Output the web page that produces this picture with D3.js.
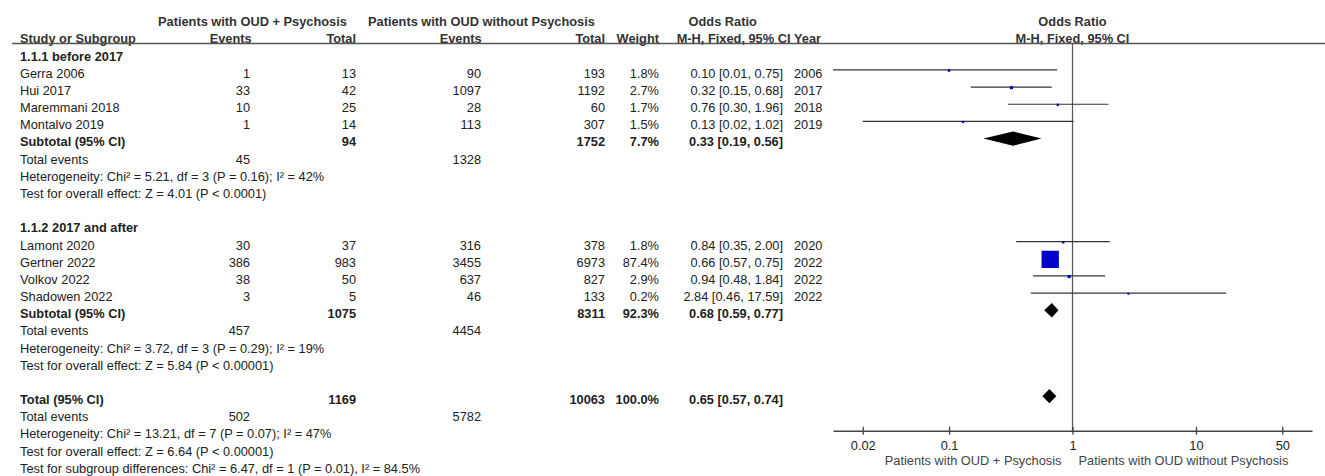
<!DOCTYPE html>
<html>
<head>
<meta charset="utf-8">
<script src="https://cdn.jsdelivr.net/npm/d3@7"></script>
<style>
  html, body { margin: 0; padding: 0; background: #fff; }
  svg { display: block; font-family: "Liberation Sans", Arial, sans-serif; }
</style>
</head>
<body>
<svg id="chart" width="1325" height="476"></svg>
<script>
// ---- Study-level data ----
const studies   = ["Gerra 2006", "Hui 2017", "Maremmani 2018", "Montalvo 2019",
                   "Lamont 2020", "Gertner 2022", "Volkov 2022", "Shadowen 2022"];
const groups    = [0, 0, 0, 0, 1, 1, 1, 1];
const events1   = [1, 33, 10, 1, 30, 386, 38, 3];
const totals1   = [13, 42, 25, 14, 37, 983, 50, 5];
const events2   = [90, 1097, 28, 113, 316, 3455, 637, 46];
const totals2   = [193, 1192, 60, 307, 378, 6973, 827, 133];
const weights   = [1.8, 2.7, 1.7, 1.5, 1.8, 87.4, 2.9, 0.2];
const oddsRatio = [0.10, 0.32, 0.76, 0.13, 0.84, 0.66, 0.94, 2.84];
const ciLow     = [0.01, 0.15, 0.30, 0.02, 0.35, 0.57, 0.48, 0.46];
const ciHigh    = [0.75, 0.68, 1.96, 1.02, 2.00, 0.75, 1.84, 17.59];
const years     = [2006, 2017, 2018, 2019, 2020, 2022, 2022, 2022];

// ---- Subgroup and overall pooled results ----
const groupTitles   = ["1.1.1 before 2017", "1.1.2 2017 and after"];
const groupTotal1   = [94, 1075];
const groupTotal2   = [1752, 8311];
const groupWeight   = [7.7, 92.3];
const groupOR       = [0.33, 0.68];
const groupLow      = [0.19, 0.59];
const groupHigh     = [0.56, 0.77];
const groupEvents1  = [45, 457];
const groupEvents2  = [1328, 4454];
const groupHetero   = ["Heterogeneity: Chi² = 5.21, df = 3 (P = 0.16); I² = 42%",
                       "Heterogeneity: Chi² = 3.72, df = 3 (P = 0.29); I² = 19%"];
const groupEffect   = ["Test for overall effect: Z = 4.01 (P < 0.0001)",
                       "Test for overall effect: Z = 5.84 (P < 0.00001)"];

const overallTotal1  = 1169;
const overallTotal2  = 10063;
const overallWeight  = 100.0;
const overallOR      = 0.65;
const overallLow     = 0.57;
const overallHigh    = 0.74;
const overallEvents1 = 502;
const overallEvents2 = 5782;
const overallNotes   = ["Heterogeneity: Chi² = 13.21, df = 7 (P = 0.07); I² = 47%",
                        "Test for overall effect: Z = 6.64 (P < 0.00001)",
                        "Test for subgroup differences: Chi² = 6.47, df = 1 (P = 0.01), I² = 84.5%"];

// ---- Axis ----
const tickValues = [0.02, 0.1, 1, 10, 50];
const favourLeft  = "Patients with OUD + Psychosis";
const favourRight = "Patients with OUD without Psychosis";

// ---- Layout ----
const svg = d3.select("#chart");
const FS = 12.8;
const rowH = 17.17;
const base = r => 26.3 + r * rowH;     // text baseline of row r
const markY = r => base(r) - 7.9;      // vertical centre of a plot mark in row r

const col = {
  study: 20, ev1: 250, tot1: 356, ev2: 481, tot2: 605,
  weight: 659, ci: 783, year: 794
};

const x = d3.scaleLog()
  .domain([Math.pow(10, -1.94), Math.pow(10, 1.94)])
  .range([833, 1312]);
const [dMin, dMax] = x.domain();
const axisY = 430.7;

const TXT = "#222";
const HDR = "#333";

function text(xp, r, str, opts = {}) {
  svg.append("text")
    .attr("x", xp)
    .attr("y", opts.y != null ? opts.y : base(r))
    .attr("font-size", FS)
    .attr("font-weight", opts.bold ? "bold" : "normal")
    .attr("text-anchor", opts.anchor || "start")
    .attr("fill", opts.fill || TXT)
    .text(str);
}

const fmt2 = d3.format(".2f");
const fmtCI = (o, l, h) => `${fmt2(o)} [${fmt2(l)}, ${fmt2(h)}]`;
const fmtW = w => d3.format(".1f")(w) + "%";

// ---- Column headers ----
text(158, 0, "Patients with OUD + Psychosis", { bold: true, fill: HDR });
text(368, 0, "Patients with OUD without Psychosis", { bold: true, fill: HDR });
text(722.7, 0, "Odds Ratio", { bold: true, fill: HDR, anchor: "middle" });
text(x(1), 0, "Odds Ratio", { bold: true, fill: HDR, anchor: "middle" });

text(col.study, 1, "Study or Subgroup", { bold: true, fill: HDR });
text(251.7, 1, "Events", { bold: true, fill: HDR, anchor: "end" });
text(col.tot1, 1, "Total", { bold: true, fill: HDR, anchor: "end" });
text(481.7, 1, "Events", { bold: true, fill: HDR, anchor: "end" });
text(col.tot2, 1, "Total", { bold: true, fill: HDR, anchor: "end" });
text(col.weight, 1, "Weight", { bold: true, fill: HDR, anchor: "end" });
text(676.7, 1, "M-H, Fixed, 95% CI", { bold: true, fill: HDR });
text(col.year, 1, "Year", { bold: true, fill: HDR });
text(x(1), 1, "M-H, Fixed, 95% CI", { bold: true, fill: HDR, anchor: "middle" });

svg.append("line")
  .attr("x1", 12).attr("x2", 1325)
  .attr("y1", 43.6).attr("y2", 43.6)
  .attr("stroke", "#555").attr("stroke-width", 1.5);

// ---- Line of no effect ----
svg.append("line")
  .attr("x1", x(1)).attr("x2", x(1))
  .attr("y1", 43.6).attr("y2", axisY)
  .attr("stroke", "#555").attr("stroke-width", 1.2);

// ---- Marks ----
const side = d3.scaleSqrt().domain([0, 87.4]).range([0, 17.3]);

function diamond(r, o, l, h) {
  const cy = markY(r), hh = 7.2;
  svg.append("path")
    .attr("d", `M${x(l)},${cy} L${x(o)},${cy - hh} L${x(h)},${cy} L${x(o)},${cy + hh} Z`)
    .attr("fill", "#000");
}

function studyRow(i, r) {
  text(col.study, r, studies[i]);
  text(col.ev1, r, events1[i], { anchor: "end" });
  text(col.tot1, r, totals1[i], { anchor: "end" });
  text(col.ev2, r, events2[i], { anchor: "end" });
  text(col.tot2, r, totals2[i], { anchor: "end" });
  text(col.weight, r, fmtW(weights[i]), { anchor: "end" });
  text(col.ci, r, fmtCI(oddsRatio[i], ciLow[i], ciHigh[i]), { anchor: "end" });
  text(col.year, r, years[i]);

  const cy = markY(r);
  svg.append("line")
    .attr("x1", x(Math.max(ciLow[i], dMin)))
    .attr("x2", x(Math.min(ciHigh[i], dMax)))
    .attr("y1", cy).attr("y2", cy)
    .attr("stroke", "#333").attr("stroke-width", 1.2);
  const s = Math.max(side(weights[i]), 2);
  svg.append("rect")
    .attr("x", x(oddsRatio[i]) - s / 2)
    .attr("y", cy - s / 2 + 0.6)
    .attr("width", s).attr("height", s)
    .attr("fill", "#0000c8");
}

// ---- Body rows ----
let row = 2;
groupTitles.forEach((title, g) => {
  text(col.study, row, title, { bold: true });
  row++;
  studies.forEach((_, i) => {
    if (groups[i] === g) { studyRow(i, row); row++; }
  });
  text(col.study, row, "Subtotal (95% CI)", { bold: true });
  text(col.tot1, row, groupTotal1[g], { bold: true, anchor: "end" });
  text(col.tot2, row, groupTotal2[g], { bold: true, anchor: "end" });
  text(col.weight, row, fmtW(groupWeight[g]), { bold: true, anchor: "end" });
  text(col.ci, row, fmtCI(groupOR[g], groupLow[g], groupHigh[g]), { bold: true, anchor: "end" });
  diamond(row, groupOR[g], groupLow[g], groupHigh[g]);
  row++;
  text(col.study, row, "Total events");
  text(col.ev1, row, groupEvents1[g], { anchor: "end" });
  text(col.ev2, row, groupEvents2[g], { anchor: "end" });
  row++;
  text(col.study, row, groupHetero[g]); row++;
  text(col.study, row, groupEffect[g]); row++;
  row++; // spacer
});

text(col.study, row, "Total (95% CI)", { bold: true });
text(col.tot1, row, overallTotal1, { bold: true, anchor: "end" });
text(col.tot2, row, overallTotal2, { bold: true, anchor: "end" });
text(col.weight, row, fmtW(overallWeight), { bold: true, anchor: "end" });
text(col.ci, row, fmtCI(overallOR, overallLow, overallHigh), { bold: true, anchor: "end" });
diamond(row, overallOR, overallLow, overallHigh);
row++;
text(col.study, row, "Total events");
text(col.ev1, row, overallEvents1, { anchor: "end" });
text(col.ev2, row, overallEvents2, { anchor: "end" });
row++;
overallNotes.forEach(n => { text(col.study, row, n); row++; });

// ---- Log axis ----
const axis = d3.axisBottom(x)
  .tickValues(tickValues)
  .tickFormat(d => String(d))
  .tickSizeOuter(0)
  .tickSizeInner(4)
  .tickPadding(6);

const gAxis = svg.append("g").attr("transform", `translate(0,${axisY})`).call(axis);
gAxis.select(".domain").attr("stroke", "#444").attr("stroke-width", 1.5);
gAxis.selectAll(".tick line").attr("y1", -4).attr("y2", 4).attr("stroke", "#444").attr("stroke-width", 1.3);
gAxis.selectAll(".tick text")
  .attr("font-size", FS)
  .attr("font-family", "Liberation Sans, Arial, sans-serif")
  .attr("fill", TXT);

svg.append("text")
  .attr("x", x(1) - 11).attr("y", 464.5)
  .attr("font-size", FS).attr("text-anchor", "end").attr("fill", "#444")
  .text(favourLeft);
svg.append("text")
  .attr("x", x(1) + 6).attr("y", 464.5)
  .attr("font-size", FS).attr("text-anchor", "start").attr("fill", "#444")
  .text(favourRight);
</script>
</body>
</html>
